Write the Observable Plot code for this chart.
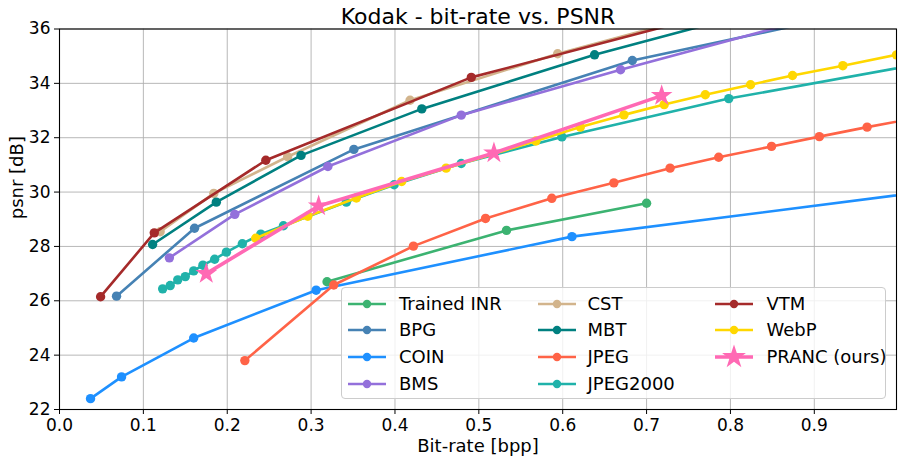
<!DOCTYPE html>
<html><head><meta charset="utf-8">
<script src="https://cdn.jsdelivr.net/npm/d3@7"></script>
<script src="https://cdn.jsdelivr.net/npm/@observablehq/plot@0.6"></script>
<style>
body{margin:0;background:#fff;font-family:"DejaVu Sans",sans-serif;}
#wrap{position:relative;width:903px;height:463px;}
#legend{position:absolute;left:341px;top:287px;width:545px;height:112px;background:rgba(255,255,255,0.8);border:1px solid #cccccc;border-radius:4px;box-sizing:border-box;}
.sw{position:absolute;width:38px;height:26px;}
.lt{position:absolute;height:26px;line-height:26px;font-size:18px;color:#000;white-space:nowrap;}
</style>
</head><body><div id="wrap"><div id="legend"></div></div>
<script>
// ---- data ----
const seriesNames = ["Trained INR","BPG","COIN","BMS","CST","MBT","JPEG","JPEG2000","VTM","WebP","PRANC (ours)"];
const seriesColors = ["#3cb371","#4682b4","#1e90ff","#9370db","#d2b48c","#008080","#ff6347","#20b2aa","#a52a2a","#ffd700","#ff69b4"];

const inrX = [0.319, 0.533, 0.700];
const inrY = [26.70, 28.59, 29.59];
const bpgX = [0.068, 0.161, 0.351, 0.683, 0.95];
const bpgY = [26.17, 28.67, 31.57, 34.84, 36.6];
const coinX = [0.037, 0.074, 0.160, 0.306, 0.611, 1.10];
const coinY = [22.40, 23.20, 24.63, 26.39, 28.36, 30.28];
const bmsX = [0.131, 0.209, 0.320, 0.479, 0.669, 0.90];
const bmsY = [27.58, 29.18, 30.94, 32.83, 34.50, 36.42];
const cstX = [0.120, 0.184, 0.272, 0.418, 0.594, 0.80];
const cstY = [28.54, 29.95, 31.30, 33.38, 35.09, 36.8];
const mbtX = [0.111, 0.187, 0.288, 0.432, 0.638, 0.85];
const mbtY = [28.07, 29.63, 31.35, 33.06, 35.05, 36.8];
const jpegX = [0.221, 0.327, 0.422, 0.508, 0.587, 0.661, 0.728, 0.786, 0.849, 0.906, 0.963, 1.02];
const jpegY = [23.80, 26.58, 28.01, 29.03, 29.77, 30.34, 30.88, 31.28, 31.68, 32.04, 32.39, 32.72];
const j2kX = [0.123, 0.132, 0.141, 0.150, 0.160, 0.171, 0.185, 0.199, 0.218, 0.240, 0.267, 0.342, 0.399, 0.479, 0.599, 0.798, 1.10];
const j2kY = [26.44, 26.56, 26.77, 26.89, 27.10, 27.31, 27.53, 27.79, 28.10, 28.45, 28.76, 29.63, 30.27, 31.05, 32.03, 33.44, 35.12];
const vtmX = [0.049, 0.113, 0.246, 0.491, 0.78];
const vtmY = [26.15, 28.50, 31.17, 34.22, 36.56];
const webpX = [0.234, 0.296, 0.354, 0.408, 0.461, 0.568, 0.621, 0.673, 0.721, 0.770, 0.824, 0.874, 0.934, 0.998];
const webpY = [28.30, 29.11, 29.78, 30.39, 30.88, 31.88, 32.39, 32.84, 33.22, 33.58, 33.95, 34.29, 34.65, 35.05];
const prancX = [0.175, 0.309, 0.518, 0.718];
const prancY = [27.00, 29.49, 31.44, 33.55];

const xTicks = [0, 0.1, 0.2, 0.3, 0.4, 0.5, 0.6, 0.7, 0.8, 0.9];
const yTicks = [22, 24, 26, 28, 30, 32, 34, 36];
const titleText = "Kodak - bit-rate vs. PSNR";
const xLabel = "Bit-rate [bpp]";
const yLabel = "psnr [dB]";

const seriesXs = [inrX, bpgX, coinX, bmsX, cstX, mbtX, jpegX, j2kX, vtmX, webpX, prancX];
const seriesYs = [inrY, bpgY, coinY, bmsY, cstY, mbtY, jpegY, j2kY, vtmY, webpY, prancY];

const series = seriesNames.map((name, k) => ({
  name, color: seriesColors[k], star: name.startsWith("PRANC"),
  data: seriesXs[k].map((x, i) => ({x, y: seriesYs[k][i]}))
}));

const marks = [
  Plot.gridX(xTicks, {stroke: "#b0b0b0", strokeOpacity: 1, strokeWidth: 0.9}),
  Plot.gridY(yTicks, {stroke: "#b0b0b0", strokeOpacity: 1, strokeWidth: 0.9}),
];
for (const s of series) {
  marks.push(Plot.line(s.data, {x: "x", y: "y", stroke: s.color, strokeWidth: s.star ? 3.6 : 2.6, clip: true}));
  if (s.star) {
    marks.push(Plot.dot(s.data, {x: "x", y: "y", symbol: "star", r: 6.8, fill: s.color, stroke: "none", clip: true}));
  } else {
    marks.push(Plot.dot(s.data, {x: "x", y: "y", r: 4.7, fill: s.color, stroke: "none", clip: true}));
  }
}
marks.push(
  Plot.frame({stroke: "#000", strokeWidth: 1.1}),
  Plot.axisX(xTicks, {tickFormat: d3.format(".1f"), tickSize: 5, tickPadding: 4, fontSize: 17, label: null}),
  Plot.axisY(yTicks, {tickSize: 5, tickPadding: 4, fontSize: 17, label: null}),
  Plot.text([titleText], {frameAnchor: "top", lineAnchor: "middle", dy: -12, fontSize: 22, fill: "#000"}),
  Plot.text([xLabel], {frameAnchor: "bottom", lineAnchor: "middle", dy: 37, fontSize: 18, fill: "#000"}),
  Plot.text([yLabel], {frameAnchor: "left", lineAnchor: "middle", dx: -42, rotate: -90, fontSize: 18, fill: "#000"})
);

const chart = Plot.plot({
  width: 903, height: 463,
  marginLeft: 59, marginRight: 7, marginTop: 28.5, marginBottom: 54,
  style: {fontFamily: "DejaVu Sans", background: "#fff", color: "#000", overflow: "visible"},
  x: {domain: [0, 0.998]},
  y: {domain: [22, 36]},
  marks
});
const wrap = document.getElementById("wrap");
wrap.insertBefore(chart, wrap.firstChild);

// ---- legend (3 columns, column-major like matplotlib) ----
const legend = document.getElementById("legend");
const colSw = [5.5, 195.5, 373];
const colTx = [57, 245.5, 424.5];
const rowC = [15.5, 42.3, 69, 96];
const starPath = d3.symbol(d3.symbolStar, Math.PI * 7.5 * 7.5)();
series.forEach((s, k) => {
  const c = Math.floor(k / 4), r = k % 4;
  const sw = document.createElement("div");
  sw.className = "sw";
  sw.style.left = colSw[c] + "px";
  sw.style.top = (rowC[r] - 13) + "px";
  const mk = s.star
    ? `<path d="${starPath}" transform="translate(19,13)" fill="${s.color}"/>`
    : `<circle cx="19" cy="13" r="4.2" fill="${s.color}"/>`;
  sw.innerHTML = `<svg width="38" height="26" style="overflow:visible"><line x1="0" x2="38" y1="13" y2="13" stroke="${s.color}" stroke-width="${s.star ? 3.6 : 2.6}"/>${mk}</svg>`;
  legend.appendChild(sw);
  const t = document.createElement("div");
  t.className = "lt";
  t.style.left = colTx[c] + "px";
  t.style.top = (rowC[r] - 13) + "px";
  t.textContent = s.name;
  legend.appendChild(t);
});
</script></body></html>
